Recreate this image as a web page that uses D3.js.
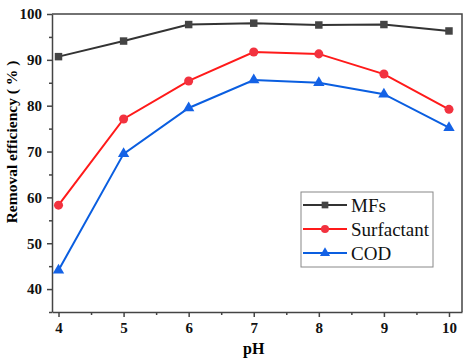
<!DOCTYPE html>
<html>
<head>
<meta charset="utf-8">
<script src="https://cdn.jsdelivr.net/npm/d3@7"></script>
<style>
  body { margin: 0; background: #fff; }
  svg text { font-family: 'Liberation Serif', 'Times New Roman', serif; }
</style>
</head>
<body>
<div id="chart"></div>
<script>
// Chart values.
const phValues = [4, 5, 6, 7, 8, 9, 10]
const mfs = [90.7, 94.1, 97.7, 98.0, 97.6, 97.7, 96.3]
const surfactant = [58.3, 77.1, 85.4, 91.7, 91.3, 86.9, 79.2]
const cod = [44.1, 69.5, 79.5, 85.6, 85.0, 82.5, 75.2]
const seriesNames = ['MFs', 'Surfactant', 'COD']
const yTicks = [40, 50, 60, 70, 80, 90, 100]

const width = 472, height = 362
const margin = {top: 14, right: 10, bottom: 50, left: 52}
const w = width - margin.left - margin.right
const h = height - margin.top - margin.bottom

const svg = d3.select('#chart')
  .append('svg')
    .attr('width', width)
    .attr('height', height)

const g = svg.append('g')
  .attr('transform', 'translate(' + margin.left + ',' + margin.top + ')')

const x = d3.scaleLinear().domain([3.9, 10.2]).range([0, w])
const y = d3.scaleLinear().domain([35, 100]).range([h, 0])

// Minor ticks.
const xMinor = phValues.slice(0, -1).map(d => d + 0.5)
const yMinor = [35, 45, 55, 65, 75, 85, 95]

const frameColor = '#444'

// X axis.
const xAxis = g.append('g')
  .attr('transform', 'translate(0,' + h + ')')
  .call(d3.axisBottom(x).tickValues(phValues).tickFormat(d3.format('d')).tickSize(5).tickSizeOuter(0))
g.append('g')
  .attr('transform', 'translate(0,' + h + ')')
  .call(d3.axisBottom(x).tickValues(xMinor).tickFormat('').tickSize(3).tickSizeOuter(0))
  .call(a => a.select('.domain').remove())

// Y axis.
const yAxis = g.append('g')
  .call(d3.axisLeft(y).tickValues(yTicks).tickFormat(d3.format('d')).tickSize(5).tickSizeOuter(0))
g.append('g')
  .call(d3.axisLeft(y).tickValues(yMinor).tickFormat('').tickSize(3).tickSizeOuter(0))
  .call(a => a.select('.domain').remove())

g.selectAll('.tick line').attr('stroke', frameColor).attr('stroke-width', 1.5)
g.selectAll('.domain').attr('stroke', frameColor).attr('stroke-width', 1.5)
xAxis.selectAll('.tick text')
  .attr('font-size', 15).attr('font-weight', 'bold').attr('fill', '#111')
  .attr('y', 21).attr('dy', 0)
yAxis.selectAll('.tick text')
  .attr('font-size', 15).attr('font-weight', 'bold').attr('fill', '#111').attr('dx', '-2')

// Top and right frame.
g.append('path')
  .attr('d', 'M0,0H' + w + 'V' + h)
  .attr('fill', 'none')
  .attr('stroke', frameColor)
  .attr('stroke-width', 1.5)

// Axis titles.
svg.append('text')
  .attr('x', margin.left + x(7))
  .attr('y', 354)
  .attr('text-anchor', 'middle')
  .attr('font-size', 16)
  .attr('font-weight', 'bold')
  .text('pH')

svg.append('text')
  .attr('transform', 'translate(17,142) rotate(-90)')
  .attr('text-anchor', 'middle')
  .attr('font-size', 15.5)
  .attr('font-weight', 'bold')
  .text('Removal efficiency ( % )')

// Series.
const series = [
  {name: seriesNames[0], values: mfs, line: '#333', fill: '#444', shape: d3.symbolSquare, size: 56},
  {name: seriesNames[1], values: surfactant, line: '#ff1a1a', fill: '#f2323f', shape: d3.symbolCircle, size: 64},
  {name: seriesNames[2], values: cod, line: '#0a5ee0', fill: '#1462e6', shape: d3.symbolTriangle, size: 56}
]

const line = d3.line()
  .x((d, i) => x(phValues[i]))
  .y(d => y(d))

series.forEach(s => {
  g.append('path')
    .datum(s.values)
    .attr('d', line)
    .attr('fill', 'none')
    .attr('stroke', s.line)
    .attr('stroke-width', 2)

  g.selectAll(null)
    .data(s.values)
    .enter()
    .append('path')
      .attr('d', d3.symbol().type(s.shape).size(s.size))
      .attr('transform', (d, i) => 'translate(' + x(phValues[i]) + ',' + y(d) + ')')
      .attr('fill', s.fill)
})

// Legend.
const legend = svg.append('g').attr('transform', 'translate(301,192)')
legend.append('rect')
  .attr('width', 132)
  .attr('height', 75)
  .attr('fill', '#fff')
  .attr('stroke', '#888')
  .attr('stroke-width', 1)

series.forEach((s, i) => {
  const row = legend.append('g').attr('transform', 'translate(0,' + (13 + i * 24) + ')')
  row.append('line')
    .attr('x1', 2).attr('x2', 46)
    .attr('stroke', s.line)
    .attr('stroke-width', 2)
  row.append('path')
    .attr('d', d3.symbol().type(s.shape).size(s.size * 0.8))
    .attr('transform', 'translate(24,0)')
    .attr('fill', s.fill)
  row.append('text')
    .attr('x', 50)
    .attr('y', 7)
    .attr('font-size', 19)
    .attr('fill', '#111')
    .text(s.name)
})
</script>
</body>
</html>
